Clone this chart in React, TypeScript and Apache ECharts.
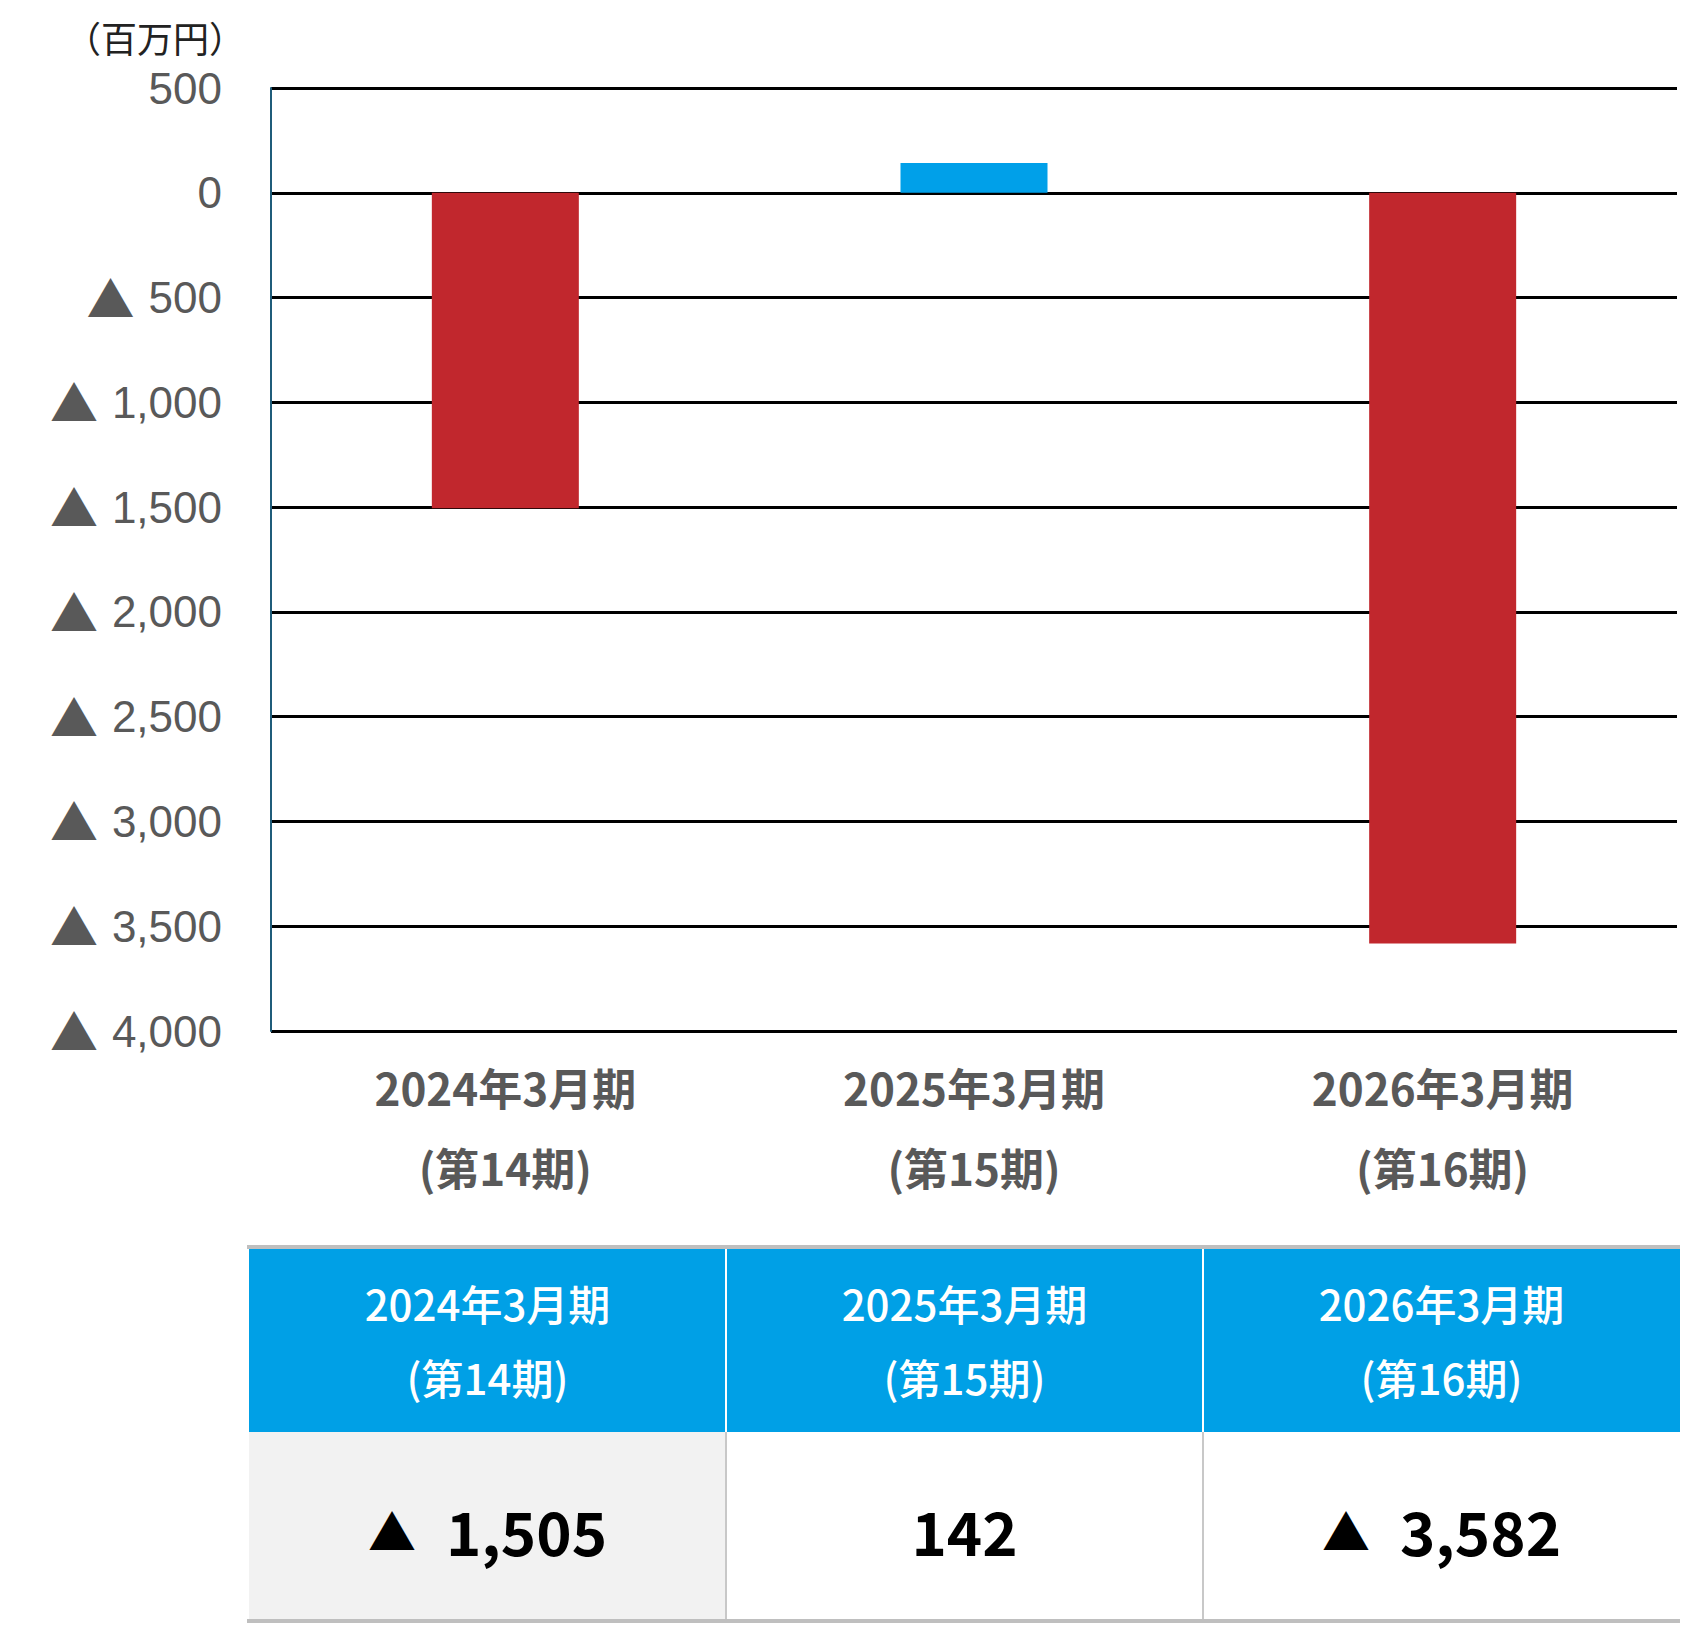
import { useEffect, useRef } from "react";
import * as echarts from "echarts";

const periods = ["2024年3月期", "2025年3月期", "2026年3月期"];
const terms = ["(第14期)", "(第15期)", "(第16期)"];
const values = [-1505, 142, -3582];
const barColors = ["#C1272D", "#00A0E9", "#C1272D"];
const yMin = -4000;
const yMax = 500;
const yStep = 500;
const unitLabel = "（百万円）";

const W = 1682;
const H = 1625;
const JP = '"Noto Sans CJK JP", "Noto Sans", sans-serif';
const LAT = '"Liberation Sans", Arial, sans-serif';

function fmtNum(v: number) {
  return Math.abs(v).toLocaleString("en-US");
}

// negative values get a ▲ prefix, as in Japanese financial reports
function richValue(v: number) {
  return v < 0 ? `{t|▲}{n|${fmtNum(v)}}` : `{n|${fmtNum(v)}}`;
}

function buildTable() {
  const left = 249;
  const colW = 477;
  const headTop = 1249;
  const headH = 183;
  const rowTop = headTop + headH;
  const rowH = 188;
  const els: any[] = [];

  periods.forEach((p, i) => {
    const x = left + i * colW;
    const cx = x + colW / 2;
    els.push({
      type: "rect",
      shape: { x, y: headTop, width: colW, height: headH },
      style: { fill: "#00A0E6" },
    });
    els.push({
      type: "rect",
      shape: { x, y: rowTop, width: colW, height: rowH },
      style: { fill: i === 0 ? "#F2F2F2" : "#FFFFFF" },
    });
    els.push({
      type: "text",
      style: {
        text: p, x: cx, y: headTop + 53, fill: "#FFFFFF",
        font: `500 42px ${JP}`, textAlign: "center", textVerticalAlign: "middle",
        align: "center", verticalAlign: "middle",
      },
    });
    els.push({
      type: "text",
      style: {
        text: terms[i], x: cx, y: headTop + 127, fill: "#FFFFFF",
        font: `500 42px ${JP}`, textAlign: "center", textVerticalAlign: "middle",
        align: "center", verticalAlign: "middle",
      },
    });
    els.push({
      type: "text",
      style: {
        text: richValue(values[i]), x: cx, y: rowTop + 97, fill: "#000000",
        textAlign: "center", textVerticalAlign: "middle",
        align: "center", verticalAlign: "middle",
        rich: {
          t: { fontFamily: JP, fontSize: 48, fill: "#000000", padding: [0, 30, 0, 0] },
          n: { fontFamily: JP, fontSize: 60, fontWeight: "bold", fill: "#000000" },
        },
      },
    });
    if (i > 0) {
      els.push({
        type: "line",
        shape: { x1: x, y1: headTop, x2: x, y2: rowTop },
        style: { stroke: "#FFFFFF", lineWidth: 2 },
      });
      els.push({
        type: "line",
        shape: { x1: x, y1: rowTop, x2: x, y2: rowTop + rowH },
        style: { stroke: "#C8C8C8", lineWidth: 2 },
      });
    }
  });

  const right = left + colW * periods.length;
  els.push({
    type: "line",
    shape: { x1: left - 2, y1: headTop - 2, x2: right, y2: headTop - 2 },
    style: { stroke: "#BFBFBF", lineWidth: 4 },
  });
  els.push({
    type: "line",
    shape: { x1: left - 2, y1: rowTop + rowH + 1, x2: right, y2: rowTop + rowH + 1 },
    style: { stroke: "#BFBFBF", lineWidth: 4 },
  });
  return els;
}

export default function App() {
  const ref = useRef<HTMLDivElement | null>(null);

  useEffect(() => {
    document.body.style.margin = "0";
    const chart = echarts.init(ref.current!, undefined, { renderer: "svg" });
    chart.setOption({
      animation: false,
      backgroundColor: "#FFFFFF",
      grid: { left: 271, right: 5, top: 88, bottom: H - 1031, containLabel: false },
      xAxis: {
        type: "category",
        data: periods.map((p, i) => `${p}\n${terms[i]}`),
        axisLine: { show: false, onZero: false },
        axisTick: { show: false },
        axisLabel: {
          margin: 16,
          color: "#595959",
          fontFamily: JP,
          fontWeight: "bold",
          fontSize: 44,
          lineHeight: 80,
        },
      },
      yAxis: {
        type: "value",
        min: yMin,
        max: yMax,
        interval: yStep,
        axisLine: { show: true, lineStyle: { color: "#1F5C7A", width: 2 } },
        axisTick: { show: false },
        axisLabel: {
          margin: 49,
          color: "#595959",
          formatter: (v: number) => richValue(v),
          rich: {
            t: { fontFamily: JP, fontSize: 48, color: "#595959", padding: [0, 14, 4, 0] },
            n: { fontFamily: LAT, fontSize: 44, color: "#595959" },
          },
        },
        splitLine: { show: true, lineStyle: { color: "#000000", width: 3 } },
      },
      series: [
        {
          type: "bar",
          barWidth: 147,
          data: values.map((v, i) => ({ value: v, itemStyle: { color: barColors[i] } })),
        },
      ],
      graphic: [
        {
          type: "text",
          style: {
            text: unitLabel, x: 155, y: 37, fill: "#222222",
            font: `36px ${JP}`, textAlign: "center", textVerticalAlign: "middle",
            align: "center", verticalAlign: "middle",
          },
        },
        ...buildTable(),
      ],
    });
    return () => chart.dispose();
  }, []);

  return <div ref={ref} style={{ width: W, height: H }} />;
}
